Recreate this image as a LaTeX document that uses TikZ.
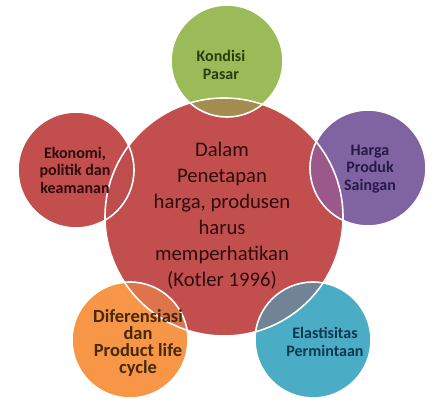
\documentclass[tikz,border=0pt]{standalone}
\usepackage{fontspec}
\setmainfont{Carlito}
\definecolor{cred}{RGB}{194,79,77}
\definecolor{cgreen}{RGB}{155,187,89}
\definecolor{cpurple}{RGB}{128,100,162}
\definecolor{cblue}{RGB}{75,172,198}
\definecolor{corange}{RGB}{247,150,70}
\definecolor{ogreen}{RGB}{165,140,80}
\definecolor{opurple}{RGB}{155,88,138}
\definecolor{oblue}{RGB}{112,132,150}
\definecolor{oorange}{RGB}{222,116,74}
\definecolor{ored}{RGB}{190,78,78}
\definecolor{tred}{RGB}{45,12,12}
\definecolor{tgreen}{RGB}{40,62,15}
\definecolor{tpurple}{RGB}{40,25,72}
\definecolor{tblue}{RGB}{15,55,78}
\definecolor{torange}{RGB}{70,40,10}
\tikzset{
  disc/.style={circle, inner sep=0pt, minimum size=#1},
  rim/.style={white, line width=1.6pt},
  smalltxt/.style={align=center, font=\fontsize{16}{17.5}\selectfont\bfseries, inner sep=0pt},
  bigtxt/.style={align=center, font=\fontsize{20.7}{26}\selectfont, inner sep=0pt, text=tred}
}
\begin{document}
\begin{tikzpicture}[x=1pt,y=1pt]
\useasboundingbox (0,0) rectangle (448,-407);
% circle centres
\coordinate (cM) at (224,-217);
\coordinate (cG) at (227,-61);
\coordinate (cL) at (76,-170);
\coordinate (cR) at (368,-168);
\coordinate (cO) at (130,-340);
\coordinate (cB) at (313,-340);
% fills
\node[disc=238pt, fill=cred] (M) at (cM) {};
\node[disc=112pt, fill=cgreen] (G) at (cG) {};
\node[disc=116pt, fill=cred] (L) at (cL) {};
\node[disc=116pt, fill=cpurple] (R) at (cR) {};
\node[disc=116pt, fill=corange] (O) at (cO) {};
\node[disc=116pt, fill=cblue] (B) at (cB) {};
% overlaps
\begin{scope}\clip (cG) circle (56); \fill[ogreen] (cM) circle (119);\end{scope}
\begin{scope}\clip (cL) circle (58); \fill[ored] (cM) circle (119);\end{scope}
\begin{scope}\clip (cR) circle (58); \fill[opurple] (cM) circle (119);\end{scope}
\begin{scope}\clip (cO) circle (58); \fill[oorange] (cM) circle (119);\end{scope}
\begin{scope}\clip (cB) circle (58); \fill[oblue] (cM) circle (119);\end{scope}
% white rims
\draw[rim] (cM) circle (119);
\draw[rim] (cG) circle (56);
\draw[rim] (cL) circle (58);
\draw[rim] (cR) circle (58);
\draw[rim] (cO) circle (58);
\draw[rim] (cB) circle (58);
% texts
\node[bigtxt] (tM) at (222,-216) {Dalam\\Penetapan\\harga, produsen\\harus\\memperhatikan\\(Kotler 1996)};
\node[smalltxt, text=tgreen] (tG) at (221,-65) {Kondisi\\Pasar};
\node[smalltxt, text=tred] (tL) at (75,-170) {Ekonomi,\\politik dan\\keamanan};
\node[smalltxt, text=tpurple] (tR) at (370,-169) {Harga\\Produk\\Saingan};
\node[smalltxt, text=torange, font=\fontsize{18.5}{17}\selectfont\bfseries] (tO) at (138,-343) {Diferensiasi\\dan\\Product life\\cycle};
\node[smalltxt, text=tblue] (tB) at (325,-342) {Elastisitas\\Permintaan};
\end{tikzpicture}
\end{document}
